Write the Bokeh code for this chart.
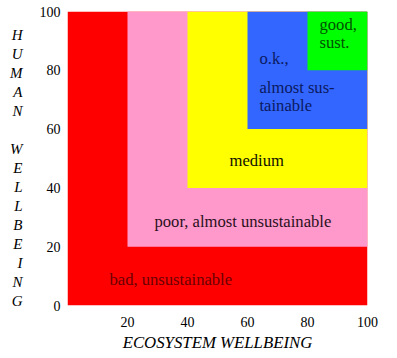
from bokeh.plotting import figure
from bokeh.models import Range1d, FixedTicker, ColumnDataSource
from bokeh.embed import file_html
from bokeh.resources import INLINE
from bokeh.core.properties import value

# nested zones: each square runs from (lo, lo) to (100, 100)
zone_names = ["bad", "poor", "medium", "ok", "good"]
zone_lo = [0, 20, 40, 60, 80]
zone_hi = [100, 100, 100, 100, 100]
zone_colors = ["#ff0000", "#ff99cc", "#ffff00", "#3366ff", "#00ff00"]

# zone captions
label_texts = ["bad, unsustainable", "poor, almost unsustainable", "medium",
               "o.k.,", "almost sus-", "tainable", "good,", "sust."]
label_x = [14, 29, 54, 64, 64, 64, 84, 84]
label_y = [8.7, 28.7, 49.3, 84, 74, 68, 95.5, 89.4]
label_colors = ["#6a0000", "#2a1020", "#111100", "#0a1a60", "#0a1a60",
                "#0a1a60", "#005000", "#005000"]

x_ticks = [20, 40, 60, 80, 100]
y_ticks = [0, 20, 40, 60, 80, 100]
x_title = "ECOSYSTEM WELLBEING"
y_title = "HUMAN WELLBEING"

FONT = "Liberation Serif"

p = figure(width=389, height=354, output_backend="svg", toolbar_location=None,
           x_range=Range1d(0, 100), y_range=Range1d(0, 100),
           min_border_left=67, min_border_right=22, min_border_top=11,
           min_border_bottom=45)
p.outline_line_color = None
p.grid.visible = False
p.background_fill_color = "white"

zones = ColumnDataSource(dict(left=zone_lo, right=zone_hi, bottom=zone_lo,
                              top=zone_hi, color=zone_colors))
p.quad(left="left", right="right", bottom="bottom", top="top",
       fill_color="color", line_color=None, source=zones)

caps = ColumnDataSource(dict(x=label_x, y=label_y, text=label_texts,
                             color=label_colors))
p.text(x="x", y="y", text="text", text_color="color", source=caps,
       text_font=value(FONT), text_font_size="16.6px",
       text_baseline="middle", text_align="left")

for ax in (p.xaxis[0], p.yaxis[0]):
    ax.axis_line_color = None
    ax.major_tick_line_color = None
    ax.minor_tick_line_color = None
    ax.major_tick_out = 0
    ax.major_tick_in = 0
    ax.major_label_text_font = FONT
    ax.major_label_text_font_size = "14px"
    ax.major_label_text_color = "black"

p.xaxis.ticker = FixedTicker(ticks=x_ticks)
p.yaxis.ticker = FixedTicker(ticks=y_ticks)
p.xaxis.major_label_standoff = 11
p.yaxis.major_label_standoff = 7

p.xaxis.axis_label = x_title
p.xaxis.axis_label_text_font = FONT
p.xaxis.axis_label_text_font_style = "italic"
p.xaxis.axis_label_text_font_size = "16.8px"
p.xaxis.axis_label_text_color = "black"
p.xaxis.axis_label_standoff = 3

# stacked vertical title, one letter per line
p.yaxis.axis_label = " \n" + "\n".join(list(y_title))
p.yaxis.axis_label_orientation = "horizontal"
p.yaxis.axis_label_text_font = FONT
p.yaxis.axis_label_text_font_style = "italic"
p.yaxis.axis_label_text_font_size = "15px"
p.yaxis.axis_label_text_color = "black"
p.yaxis.axis_label_text_line_height = 1.19
p.yaxis.axis_label_standoff = 14

open("out.html", "w").write(file_html(p, INLINE))
